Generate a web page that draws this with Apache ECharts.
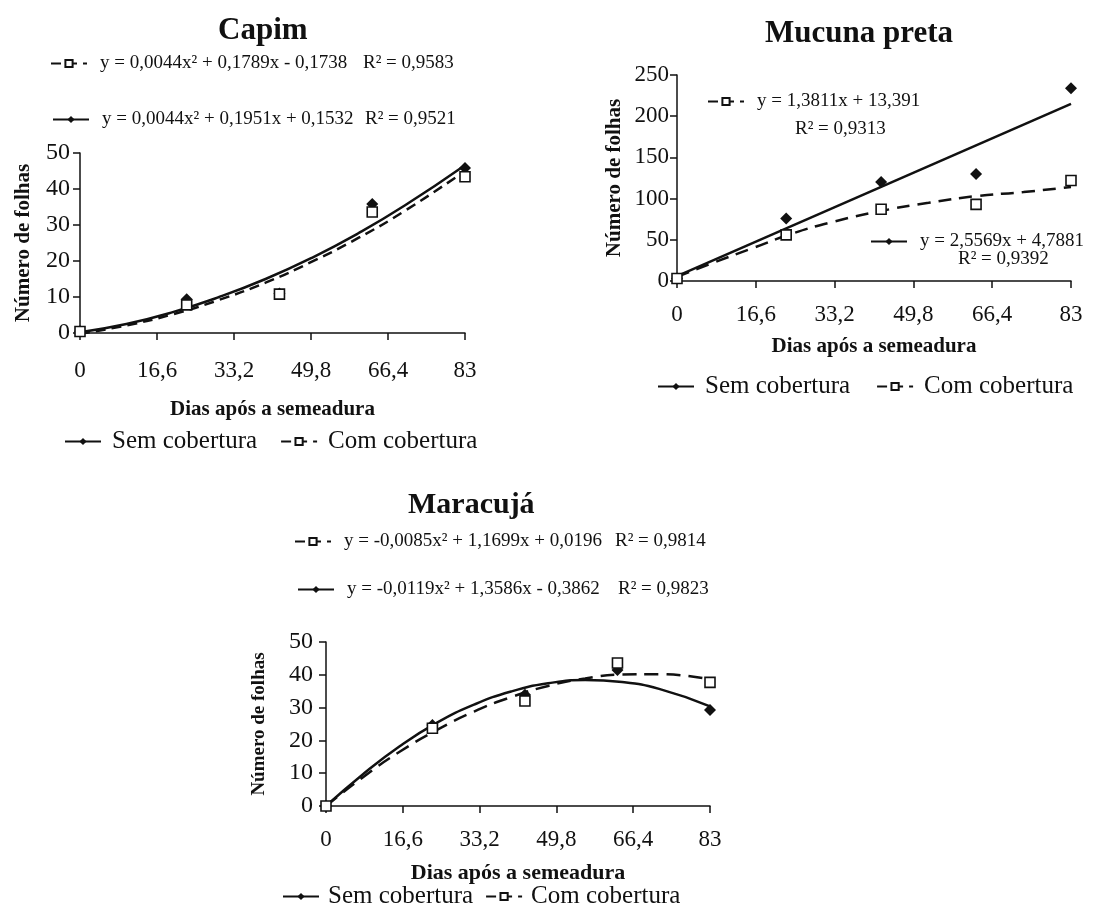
<!DOCTYPE html>
<html><head><meta charset="utf-8">
<script src="https://cdn.jsdelivr.net/npm/echarts@6/dist/echarts.min.js"></script>
<style>html,body{margin:0;padding:0;background:#fff}#c{width:1102px;height:914px}</style>
</head><body><div id="c"></div>
<script>
// ---------- data ----------
const days = [0, 23, 43, 63, 83];
const xTicks = [0, 16.6, 33.2, 49.8, 66.4, 83];

const capimSem = [0.5, 9.4, 11.0, 35.8, 45.8];
const capimCom = [0.4, 7.8, 10.8, 33.6, 43.4];
const capimFitX = [0, 10, 20, 30, 40, 50, 60, 70, 83];
const capimSemFit = [0.2, 2.5, 5.8, 10.0, 15.0, 20.9, 27.7, 35.4, 46.6];
const capimComFit = [-0.2, 2.1, 5.2, 9.2, 14.0, 19.8, 26.4, 33.9, 45.0];

const mucunaSem = [3, 76, 120, 130, 234];
const mucunaCom = [3, 56, 87, 93, 122];
const mucunaSemFitX = [0, 83];
const mucunaSemFit = [6, 215];
const mucunaComFitX = [0, 8, 16, 24, 33, 43, 53, 63, 73, 83];
const mucunaComFit = [5, 23, 40, 57, 72, 85, 95, 103, 108, 114];

const maracujaSem = [0, 24.7, 33.9, 41.5, 29.3];
const maracujaCom = [0, 23.7, 32.0, 43.6, 37.7];
const maracujaFitX = [0, 8, 16, 24, 32, 40, 48, 56, 64, 72, 83];
const maracujaSemFit = [0, 9.7, 18.3, 25.4, 30.9, 34.9, 37.4, 38.4, 37.8, 35.7, 30.4];
const maracujaComFit = [0, 8.8, 16.6, 23.2, 28.8, 33.2, 36.6, 38.9, 40.1, 40.2, 38.6];

const yTicksCapim = [0, 10, 20, 30, 40, 50];
const yTicksMucuna = [0, 50, 100, 150, 200, 250];
const yTicksMaracuja = [0, 10, 20, 30, 40, 50];

// ---------- helpers ----------
const F = 'Liberation Serif';
const INK = '#111111';
const pts = (xs, ys) => xs.map((x, i) => [x, ys[i]]);
const fmtX = v => String(Math.round(v * 10) / 10).replace('.', ',');

function xAxis(gi, labelMargin, nameGap, fs, nfs) {
  return {
    gridIndex: gi, type: 'value', min: xTicks[0], max: xTicks[xTicks.length - 1],
    interval: xTicks[1] - xTicks[0],
    name: 'Dias após a semeadura', nameLocation: 'middle', nameGap: nameGap,
    nameTextStyle: { fontFamily: F, fontWeight: 'bold', fontSize: nfs, color: INK },
    axisLine: { lineStyle: { color: INK, width: 1.5 } },
    axisTick: { show: true, inside: false, length: 7, lineStyle: { color: INK, width: 1.5 } },
    axisLabel: { formatter: fmtX, fontFamily: F, fontSize: fs, color: INK, margin: labelMargin },
    splitLine: { show: false }
  };
}
function yAxis(gi, ticks, labelMargin, nameGap, fs, nfs) {
  return {
    gridIndex: gi, type: 'value', min: ticks[0], max: ticks[ticks.length - 1],
    interval: ticks[1] - ticks[0],
    name: 'Número de folhas', nameLocation: 'middle', nameGap: nameGap,
    nameTextStyle: { fontFamily: F, fontWeight: 'bold', fontSize: nfs, color: INK },
    axisLine: { show: true, lineStyle: { color: INK, width: 1.5 } },
    axisTick: { show: true, inside: false, length: 7, lineStyle: { color: INK, width: 1.5 } },
    axisLabel: { fontFamily: F, fontSize: fs, color: INK, margin: labelMargin },
    splitLine: { show: false }
  };
}
function fitSem(gi, data) {
  return {
    name: 'Sem cobertura', type: 'line', xAxisIndex: gi, yAxisIndex: gi, data: data,
    smooth: true, showSymbol: false, symbol: 'diamond', symbolSize: 9,
    lineStyle: { color: INK, width: 2.5, type: 'solid' },
    itemStyle: { color: INK }, z: 2, silent: true
  };
}
function fitCom(gi, data, dash) {
  return {
    name: 'Com cobertura', type: 'line', xAxisIndex: gi, yAxisIndex: gi, data: data,
    smooth: true, showSymbol: false, symbol: 'rect', symbolSize: 8,
    lineStyle: { color: INK, width: 2.5, type: dash },
    itemStyle: { color: '#fff', borderColor: INK, borderWidth: 1.5 }, z: 2, silent: true
  };
}
function obsSem(gi, data) {
  return {
    name: 'Sem cobertura (obs)', type: 'scatter', xAxisIndex: gi, yAxisIndex: gi, data: data,
    symbol: 'diamond', symbolSize: 12, itemStyle: { color: INK, opacity: 1 }, z: 4
  };
}
function obsCom(gi, data) {
  return {
    name: 'Com cobertura (obs)', type: 'scatter', xAxisIndex: gi, yAxisIndex: gi, data: data,
    symbol: 'rect', symbolSize: 10,
    itemStyle: { color: '#fff', borderColor: INK, borderWidth: 1.6, opacity: 1 }, z: 5
  };
}
function bottomLegend(left, top, gap, pad) {
  return {
    data: ['Sem cobertura', 'Com cobertura'], left: left, top: top, orient: 'horizontal',
    itemWidth: 36, itemHeight: 9, itemGap: gap, selectedMode: false, padding: 0,
    textStyle: { fontFamily: F, fontSize: 25, color: INK, padding: [0, 0, 0, pad] }
  };
}
function eqLegend(name, left, top, eq, r2, eqWidth, fs) {
  return {
    data: [name], left: left, top: top, itemWidth: 36, itemHeight: 9,
    selectedMode: false, padding: 0,
    formatter: () => r2 ? '{e|' + eq + '}{r|' + r2 + '}' : '{e|' + eq + '}',
    textStyle: {
      fontFamily: F, fontSize: fs, color: INK,
      rich: {
        e: { fontFamily: F, fontSize: fs, color: INK, width: eqWidth, padding: [0, 0, 0, 8] },
        r: { fontFamily: F, fontSize: fs, color: INK }
      }
    }
  };
}
function ttl(text, left, top, fs, bold) {
  return { text: text, left: left, top: top, padding: 0,
    textStyle: { fontFamily: F, fontSize: fs, fontWeight: bold ? 'bold' : 'normal', color: INK } };
}

const chart = echarts.init(document.getElementById('c'), null, { renderer: 'canvas' });
chart.setOption({
  backgroundColor: '#fff',
  animation: false,
  title: [
    ttl('Capim', 218, 15, 31, true),
    ttl('Mucuna preta', 765, 18, 31, true),
    ttl('Maracujá', 408, 490, 30, true),
    ttl('R² = 0,9313', 795, 120, 19, false),
    ttl('R² = 0,9392', 958, 250, 19, false)
  ],
  grid: [
    { left: 80, top: 153, width: 385, height: 180 },
    { left: 677, top: 75, width: 394, height: 206 },
    { left: 326, top: 642, width: 384, height: 164 }
  ],
  xAxis: [ xAxis(0, 26, 66, 23, 21), xAxis(1, 22, 55, 23, 21), xAxis(2, 22, 56, 23, 22) ],
  yAxis: [
    yAxis(0, yTicksCapim, 10, 46, 24, 21),
    yAxis(1, yTicksMucuna, 8, 52, 23, 21),
    yAxis(2, yTicksMaracuja, 13, 57, 24, 19)
  ],
  legend: [
    bottomLegend(64, 429, 23, 6),
    bottomLegend(657, 374, 26, 6),
    bottomLegend(282, 884, 12, 4),
    eqLegend('Com cobertura', 50, 54, 'y = 0,0044x² + 0,1789x - 0,1738', 'R² = 0,9583', 263, 19),
    eqLegend('Sem cobertura', 52, 110, 'y = 0,0044x² + 0,1951x + 0,1532', 'R² = 0,9521', 263, 19),
    eqLegend('Com cobertura', 707, 92, 'y = 1,3811x + 13,391', null, 0, 19),
    eqLegend('Sem cobertura', 870, 232, 'y = 2,5569x + 4,7881', null, 0, 19),
    eqLegend('Com cobertura', 294, 532, 'y = -0,0085x² + 1,1699x + 0,0196', 'R² = 0,9814', 271, 19),
    eqLegend('Sem cobertura', 297, 580, 'y = -0,0119x² + 1,3586x - 0,3862', 'R² = 0,9823', 271, 19)
  ],
  series: [
    fitSem(0, pts(capimFitX, capimSemFit)),
    fitCom(0, pts(capimFitX, capimComFit), [10, 6]),
    obsSem(0, pts(days, capimSem)),
    obsCom(0, pts(days, capimCom)),
    fitSem(1, pts(mucunaSemFitX, mucunaSemFit)),
    fitCom(1, pts(mucunaComFitX, mucunaComFit), [13, 8]),
    obsSem(1, pts(days, mucunaSem)),
    obsCom(1, pts(days, mucunaCom)),
    fitSem(2, pts(maracujaFitX, maracujaSemFit)),
    fitCom(2, pts(maracujaFitX, maracujaComFit), [14, 8]),
    obsSem(2, pts(days, maracujaSem)),
    obsCom(2, pts(days, maracujaCom))
  ]
});
</script></body></html>
